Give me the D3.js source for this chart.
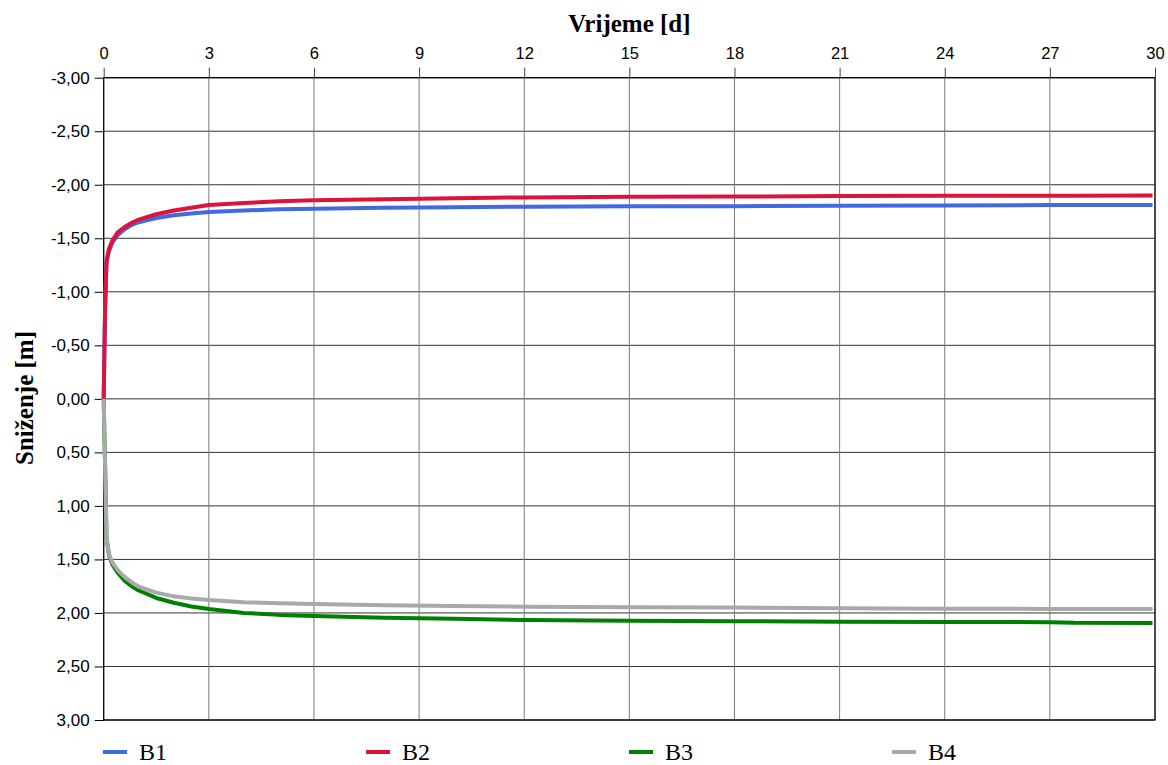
<!DOCTYPE html>
<html>
<head>
<meta charset="utf-8">
<script src="https://cdn.jsdelivr.net/npm/d3@7"></script>
<style>
  html, body { margin: 0; padding: 0; background: #fff; }
  svg { display: block; }
</style>
</head>
<body>
<svg id="chart" width="1168" height="765"></svg>
<script>
// ---- data ----
const days = [0, 0.02, 0.04, 0.08, 0.15, 0.25, 0.4, 0.6, 0.8, 1.0, 1.5, 2, 2.5, 3, 4, 5, 6, 8, 10, 12, 15, 18, 21, 24, 27, 27.7, 29.93];
const b1 = [0, -0.45, -0.85, -1.27, -1.38, -1.46, -1.53, -1.585, -1.625, -1.65, -1.69, -1.715, -1.732, -1.745, -1.76, -1.77, -1.775, -1.785, -1.79, -1.795, -1.80, -1.80, -1.803, -1.807, -1.81, -1.81, -1.81];
const b2 = [0, -0.45, -0.85, -1.29, -1.40, -1.48, -1.555, -1.605, -1.645, -1.675, -1.725, -1.76, -1.785, -1.81, -1.83, -1.845, -1.855, -1.865, -1.875, -1.882, -1.887, -1.89, -1.895, -1.897, -1.897, -1.897, -1.90];
const b3 = [0, 0.35, 0.62, 1.30, 1.46, 1.55, 1.625, 1.70, 1.75, 1.79, 1.86, 1.905, 1.94, 1.963, 2.00, 2.018, 2.028, 2.045, 2.055, 2.065, 2.072, 2.077, 2.082, 2.085, 2.086, 2.092, 2.093];
const b4 = [0, 0.35, 0.62, 1.30, 1.45, 1.53, 1.60, 1.665, 1.715, 1.755, 1.81, 1.845, 1.865, 1.88, 1.90, 1.91, 1.917, 1.928, 1.935, 1.941, 1.946, 1.95, 1.955, 1.96, 1.962, 1.962, 1.963];
const seriesNames = ["B1", "B2", "B3", "B4"];
const seriesColors = ["#4169E1", "#DC143C", "#008000", "#A9A9A9"];
const xTickValues = [0, 3, 6, 9, 12, 15, 18, 21, 24, 27, 30];
const yTickValues = [-3, -2.5, -2, -1.5, -1, -0.5, 0, 0.5, 1, 1.5, 2, 2.5, 3];
const yTickLabels = ["-3,00", "-2,50", "-2,00", "-1,50", "-1,00", "-0,50", "0,00", "0,50", "1,00", "1,50", "2,00", "2,50", "3,00"];
const xTitle = "Vrijeme [d]";
const yTitle = "Sniženje [m]";

// ---- layout ----
const mLeft = 103.7, mRight = 1155, mTop = 77.7, mBottom = 720;
const svg = d3.select("#chart");
const x = d3.scaleLinear().domain([0, 30]).range([mLeft, mRight]);
const y = d3.scaleLinear().domain([-3, 3]).range([mTop, mBottom]);

// gridlines
const grid = svg.append("g");
grid.selectAll("line.h").data(yTickValues).join("line")
  .attr("class", "h")
  .attr("x1", mLeft).attr("x2", mRight)
  .attr("y1", d => y(d)).attr("y2", d => y(d))
  .attr("stroke", "#333").attr("stroke-width", 1);
grid.selectAll("line.v").data(xTickValues).join("line")
  .attr("class", "v")
  .attr("y1", mTop).attr("y2", mBottom)
  .attr("x1", d => x(d)).attr("x2", d => x(d))
  .attr("stroke", "#7a7a7a").attr("stroke-width", 1);

// frame
svg.append("rect").attr("x", mLeft).attr("y", mTop)
  .attr("width", mRight - mLeft).attr("height", mBottom - mTop)
  .attr("fill", "none").attr("stroke", "#000").attr("stroke-width", 1.2);

// axes
const yAxis = d3.axisLeft(y).tickValues(yTickValues)
  .tickFormat((d, i) => yTickLabels[i]).tickSize(9).tickPadding(5);
const gy = svg.append("g").attr("transform", `translate(${mLeft},0)`).call(yAxis);
gy.select(".domain").remove();
gy.selectAll(".tick line").attr("stroke", "#000");
gy.selectAll("text").attr("font-family", "'Liberation Sans', Arial, sans-serif")
  .attr("font-size", 17).attr("fill", "#000");

const xAxis = d3.axisTop(x).tickValues(xTickValues).tickFormat(d => String(d))
  .tickSize(10).tickPadding(9);
const gx = svg.append("g").attr("transform", `translate(0,${mTop})`).call(xAxis);
gx.select(".domain").remove();
gx.selectAll(".tick line").attr("stroke", "#444");
gx.selectAll("text").attr("font-family", "'Liberation Sans', Arial, sans-serif")
  .attr("font-size", 16.5).attr("fill", "#000");

// titles
svg.append("text").attr("x", (mLeft + mRight) / 2).attr("y", 32)
  .attr("text-anchor", "middle")
  .attr("font-family", "'Liberation Serif', 'Times New Roman', serif")
  .attr("font-weight", "bold").attr("font-size", 25).text(xTitle);
svg.append("text").attr("transform", "translate(33,398) rotate(-90)")
  .attr("text-anchor", "middle")
  .attr("font-family", "'Liberation Serif', 'Times New Roman', serif")
  .attr("font-weight", "bold").attr("font-size", 25).text(yTitle);

// lines
const allSeries = [b1, b2, b3, b4];
const line = d3.line().x((d, i) => x(days[i])).y(d => y(d));
svg.append("g").selectAll("path").data(allSeries).join("path")
  .attr("d", d => line(d))
  .attr("fill", "none")
  .attr("stroke", (d, i) => seriesColors[i])
  .attr("stroke-width", 4)
  .attr("stroke-linejoin", "round");

// legend
const legendX = d3.scalePoint().domain(seriesNames).range([103, 892]);
const lg = svg.append("g").selectAll("g").data(seriesNames).join("g")
  .attr("transform", d => `translate(${legendX(d)},752)`);
lg.append("line").attr("x1", 0).attr("x2", 24).attr("y1", 0).attr("y2", 0)
  .attr("stroke", (d, i) => seriesColors[i]).attr("stroke-width", 4);
lg.append("text").attr("x", 36).attr("y", 7.5)
  .attr("font-family", "'Liberation Serif', 'Times New Roman', serif")
  .attr("font-size", 24).text(d => d);
</script>
</body>
</html>
